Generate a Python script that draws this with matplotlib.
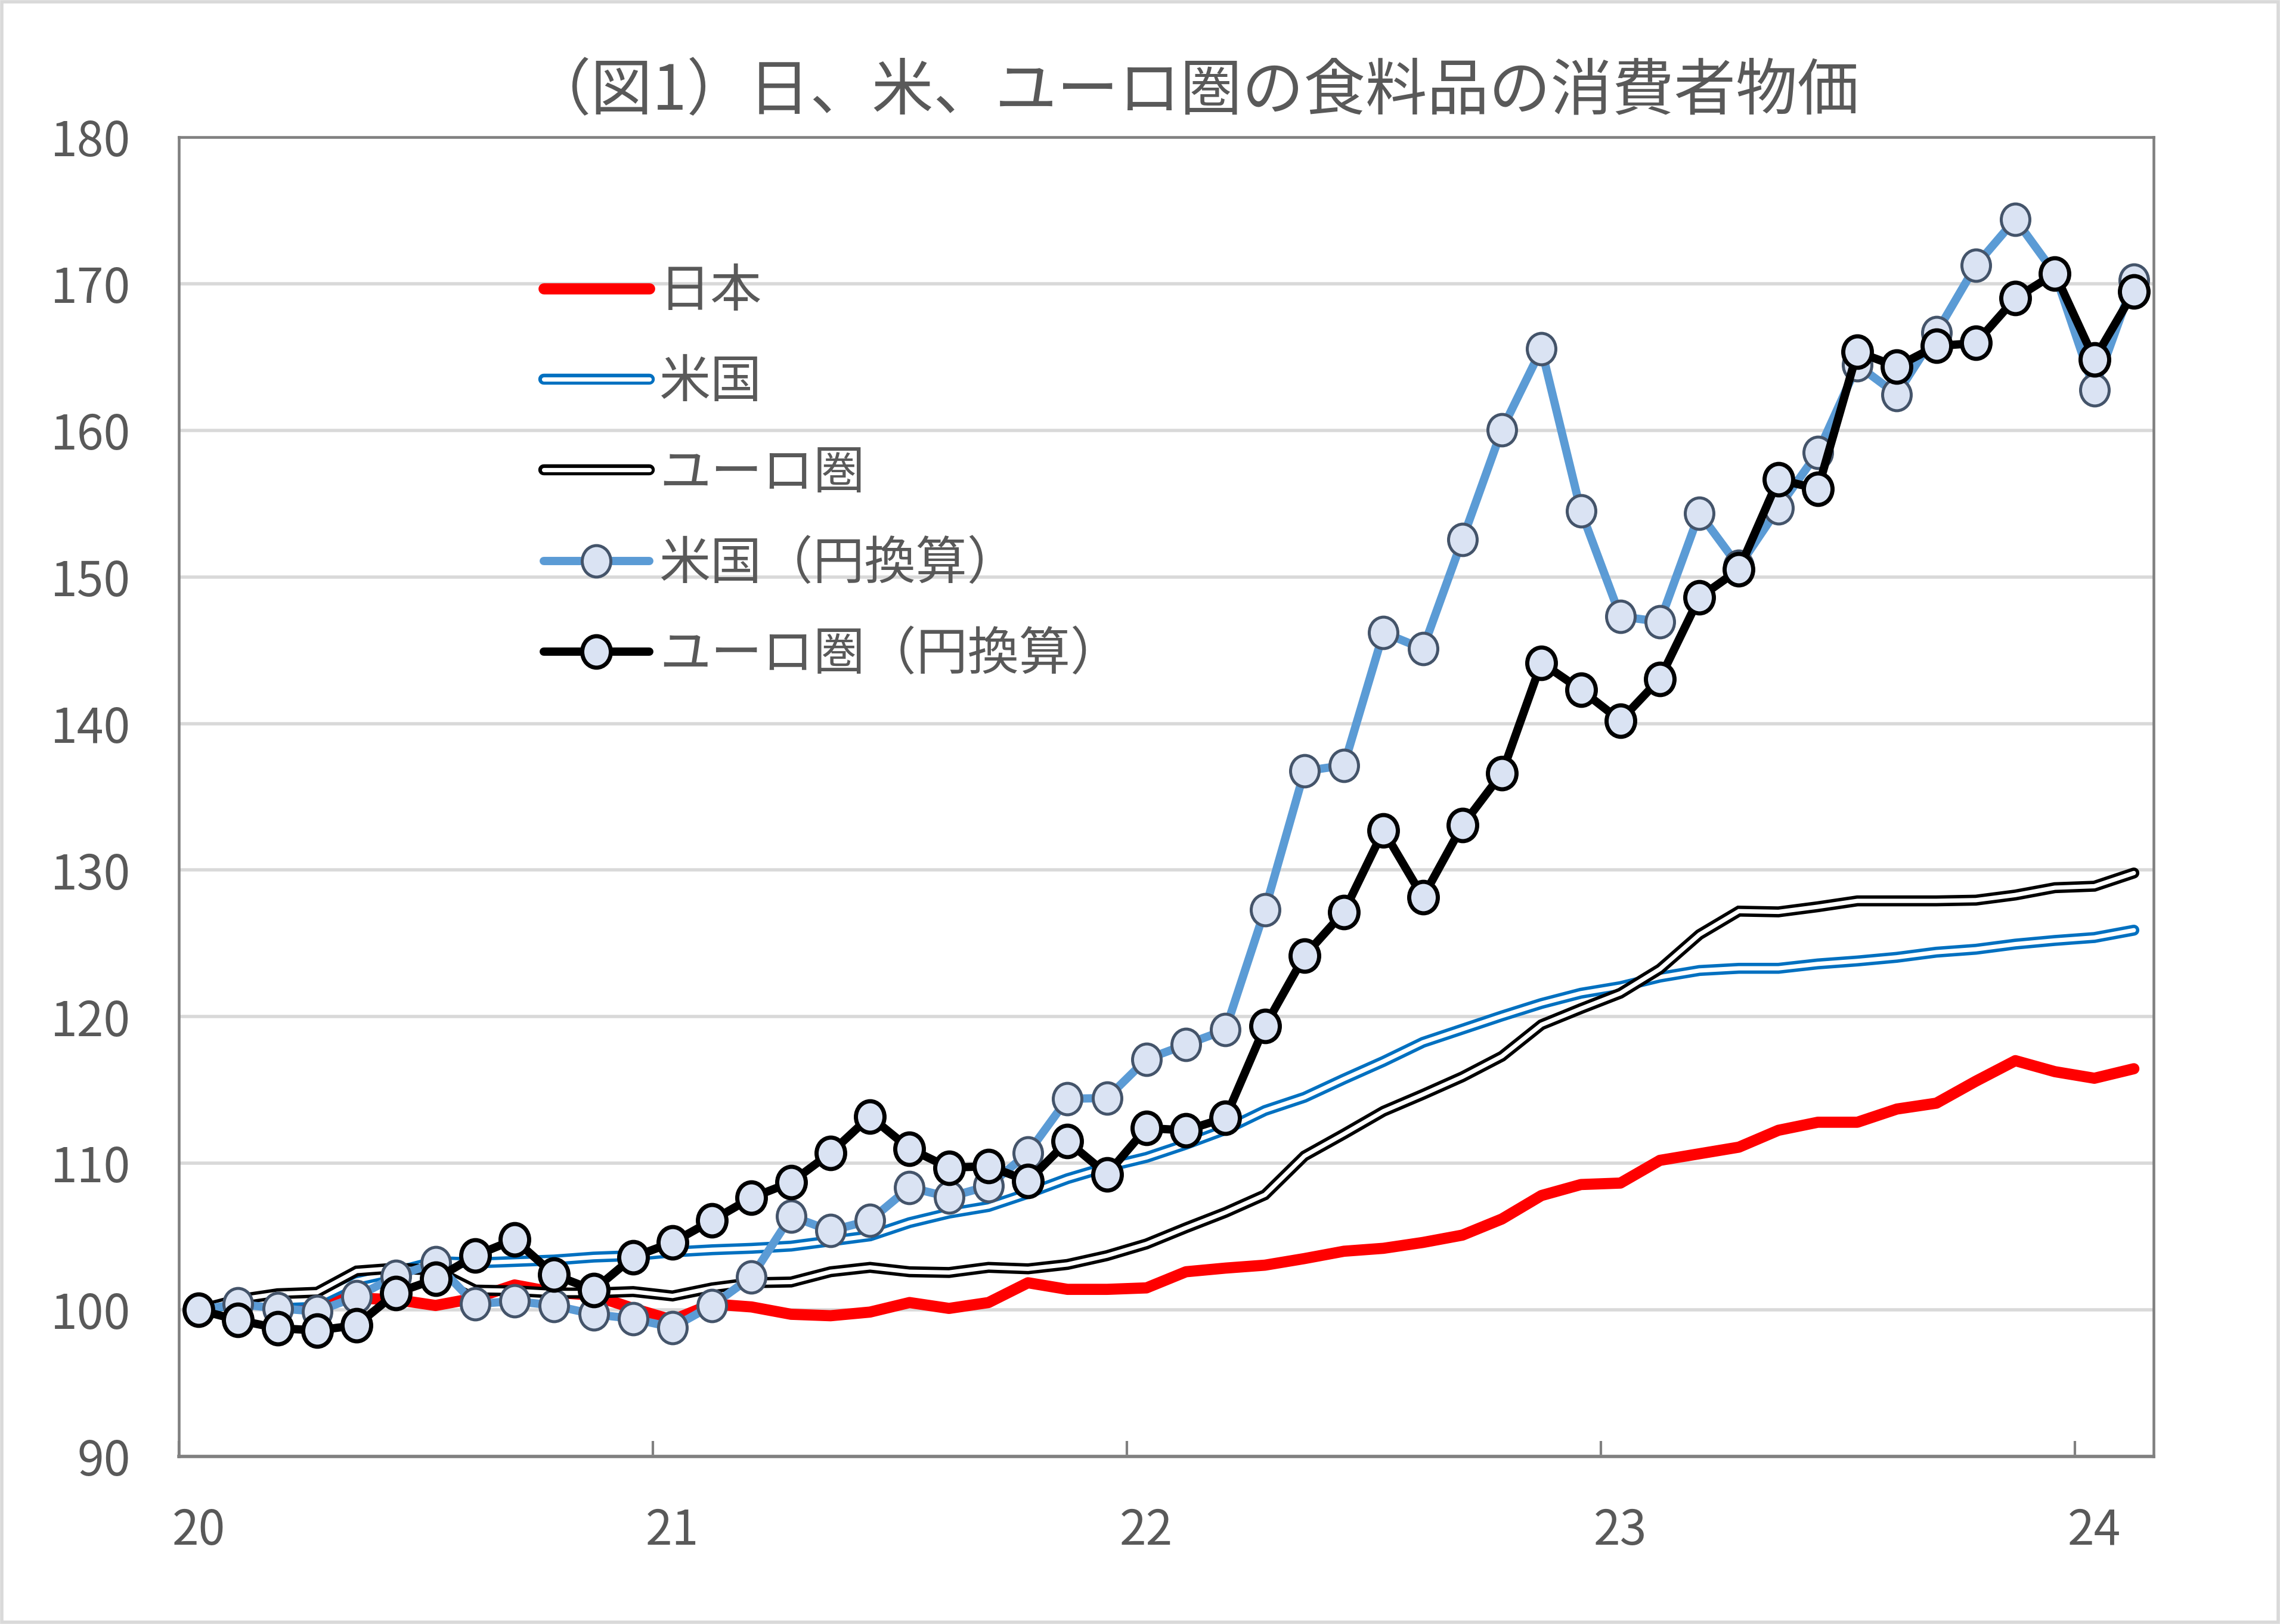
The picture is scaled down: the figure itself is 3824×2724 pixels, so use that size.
import matplotlib
matplotlib.use('Agg')
import matplotlib.pyplot as plt
import numpy as np
from matplotlib.path import Path
from matplotlib.lines import Line2D
from matplotlib.patches import Rectangle

plt.rcParams['font.family'] = ['Noto Sans CJK JP', 'DejaVu Sans']

title = '（図1）日、米、ユーロ圏の食料品の消費者物価'
year_labels = ['20', '21', '22', '23', '24']
series_labels = ['日本', '米国', 'ユーロ圏', '米国（円換算）', 'ユーロ圏（円換算）']
y_ticks = [90, 100, 110, 120, 130, 140, 150, 160, 170, 180]

# Monthly, Jan 2020 .. Feb 2024 (Jan 2020 = 100)
japan = [100.0, 100.6, 100.4, 100.5, 100.8, 100.7, 100.3, 100.8, 101.7, 101.2,
         101.0, 100.1, 99.3, 100.4, 100.2, 99.7, 99.6, 99.85, 100.5, 100.1,
         100.5, 101.85, 101.4, 101.4, 101.5, 102.6, 102.85, 103.05, 103.5, 104.0,
         104.2, 104.6, 105.1, 106.2, 107.8, 108.55, 108.65, 110.2, 110.65, 111.1,
         112.25, 112.8, 112.8, 113.7, 114.1, 115.6, 117.0, 116.25, 115.8, 116.45]
us = [100.0, 100.5, 100.6, 100.7, 102.0, 102.6, 103.3, 103.2, 103.3, 103.4,
      103.6, 103.7, 103.95, 104.1, 104.2, 104.35, 104.7, 105.05, 105.95, 106.6,
      107.05, 107.95, 108.95, 109.75, 110.4, 111.3, 112.3, 113.6, 114.5, 115.75,
      116.95, 118.25, 119.15, 120.05, 120.9, 121.6, 122.05, 122.7, 123.15, 123.3,
      123.3, 123.6, 123.8, 124.05, 124.4, 124.6, 124.95, 125.2, 125.4, 125.9]
euro = [100.0, 100.7, 101.1, 101.2, 102.65, 102.85, 102.7, 101.35, 101.3, 101.15,
        101.15, 101.25, 100.95, 101.5, 101.85, 101.9, 102.6, 102.9, 102.6, 102.55,
        102.9, 102.8, 103.1, 103.7, 104.5, 105.6, 106.65, 107.85, 110.5, 112.0,
        113.55, 114.7, 115.9, 117.3, 119.45, 120.55, 121.6, 123.25, 125.6, 127.2,
        127.15, 127.5, 127.9, 127.9, 127.9, 127.95, 128.3, 128.8, 128.9, 129.8]
us_yen = [100.0, 100.4, 100.1, 99.9, 100.9, 102.3, 103.2, 100.4, 100.6, 100.3,
          99.7, 99.4, 98.8, 100.3, 102.25, 106.4, 105.4, 106.1, 108.35, 107.7,
          108.45, 110.7, 114.4, 114.45, 117.1, 118.1, 119.1, 127.3, 136.75, 137.15,
          146.2, 145.1, 152.55, 160.05, 165.55, 154.5, 147.3, 146.95, 154.35, 150.7,
          154.7, 158.5, 164.45, 162.45, 166.65, 171.25, 174.4, 170.7, 162.75, 170.25]
euro_yen = [100.0, 99.3, 98.75, 98.6, 98.95, 101.15, 102.1, 103.7, 104.8, 102.4,
            101.35, 103.6, 104.6, 106.1, 107.65, 108.7, 110.7, 113.2, 111.0, 109.7,
            109.8, 108.8, 111.5, 109.25, 112.4, 112.25, 113.1, 119.35, 124.15, 127.15,
            132.7, 128.15, 133.05, 136.6, 144.15, 142.3, 140.2, 143.05, 148.6, 150.5,
            156.65, 156.0, 165.35, 164.35, 165.75, 165.95, 169.0, 170.7, 164.85, 169.45]

TXT = '#595959'
GRID = '#D9D9D9'
AXC = '#808080'

fig = plt.figure(figsize=(38.24, 27.24), dpi=100)
ax = fig.add_axes([0.07845, 0.10316, 0.86611, 0.81241])

n = len(japan)
x = np.arange(n)

# elliptical marker (slightly taller than wide)
uc = Path.unit_circle()
ell = Path(uc.vertices * np.array([1.0, 1.1]), uc.codes)

lw_jp = 13.5
lw_dbl_out, lw_dbl_in = 13.3, 5.2
lw_yen = 10

ax.plot(x, japan, color='#FF0000', lw=lw_jp, solid_capstyle='round',
        solid_joinstyle='round', zorder=3)
ax.plot(x, us, color='#0070C0', lw=lw_dbl_out, solid_capstyle='round',
        solid_joinstyle='miter', zorder=4)
ax.plot(x, us, color='white', lw=lw_dbl_in, solid_capstyle='round',
        solid_joinstyle='miter', zorder=4)
ax.plot(x, euro, color='black', lw=lw_dbl_out, solid_capstyle='round',
        solid_joinstyle='miter', zorder=5)
ax.plot(x, euro, color='white', lw=lw_dbl_in, solid_capstyle='round',
        solid_joinstyle='miter', zorder=5)
ax.plot(x, us_yen, color='#5B9BD5', lw=lw_yen, solid_joinstyle='round',
        marker=ell, ms=38, mfc='#DAE3F3', mec='#44546A', mew=3.6, zorder=6)
ax.plot(x, euro_yen, color='black', lw=lw_yen, solid_joinstyle='round',
        marker=ell, ms=38, mfc='#DAE3F3', mec='black', mew=5, zorder=7)

ax.set_xlim(-0.5, n - 0.5)
ax.set_ylim(y_ticks[0], y_ticks[-1])
ax.set_yticks(y_ticks)
ax.set_yticklabels([str(v) for v in y_ticks])
ax.yaxis.grid(True, color=GRID, lw=4)
ax.set_axisbelow(True)

ax.set_xticks([12 * k - 0.5 for k in range(len(year_labels))])
ax.set_xticklabels([])
ax.set_xticks([12 * k for k in range(len(year_labels))], minor=True)
ax.set_xticklabels(year_labels, minor=True)
ax.tick_params(axis='x', which='major', direction='in', length=19, width=3,
               color=AXC)
ax.tick_params(axis='x', which='minor', length=0, pad=60, labelsize=58,
               labelcolor=TXT)
ax.tick_params(axis='y', length=0, pad=58, labelsize=58, labelcolor=TXT)

for s in ax.spines.values():
    s.set_color(AXC)
    s.set_linewidth(3.3)
ax.spines['bottom'].set_linewidth(4)

fig.text(0.5236, 0.9435, title, ha='center', va='center', fontsize=74.5,
         color=TXT)

cap = dict(solid_capstyle='round')
handles = [
    Line2D([], [], color='#FF0000', lw=lw_jp, **cap),
    (Line2D([], [], color='#0070C0', lw=lw_dbl_out, **cap),
     Line2D([], [], color='white', lw=lw_dbl_in, **cap)),
    (Line2D([], [], color='black', lw=lw_dbl_out, **cap),
     Line2D([], [], color='white', lw=lw_dbl_in, **cap)),
    Line2D([], [], color='#5B9BD5', lw=lw_yen, marker=ell, ms=38,
           mfc='#DAE3F3', mec='#44546A', mew=3.6, **cap),
    Line2D([], [], color='black', lw=lw_yen, marker=ell, ms=38,
           mfc='#DAE3F3', mec='black', mew=5, **cap),
]
fig.legend(handles, series_labels, loc='upper left',
           bbox_to_anchor=(0.2385, 0.8364), frameon=False, fontsize=62,
           handlelength=2.05, handletextpad=0.2, labelspacing=0.74,
           borderpad=0, borderaxespad=0, labelcolor=TXT)

fig.patches.append(Rectangle((0.0008, 0.0011), 0.9984, 0.9978,
                             transform=fig.transFigure, fill=False,
                             edgecolor=GRID, lw=4))

fig.savefig('out.png', dpi=100)
